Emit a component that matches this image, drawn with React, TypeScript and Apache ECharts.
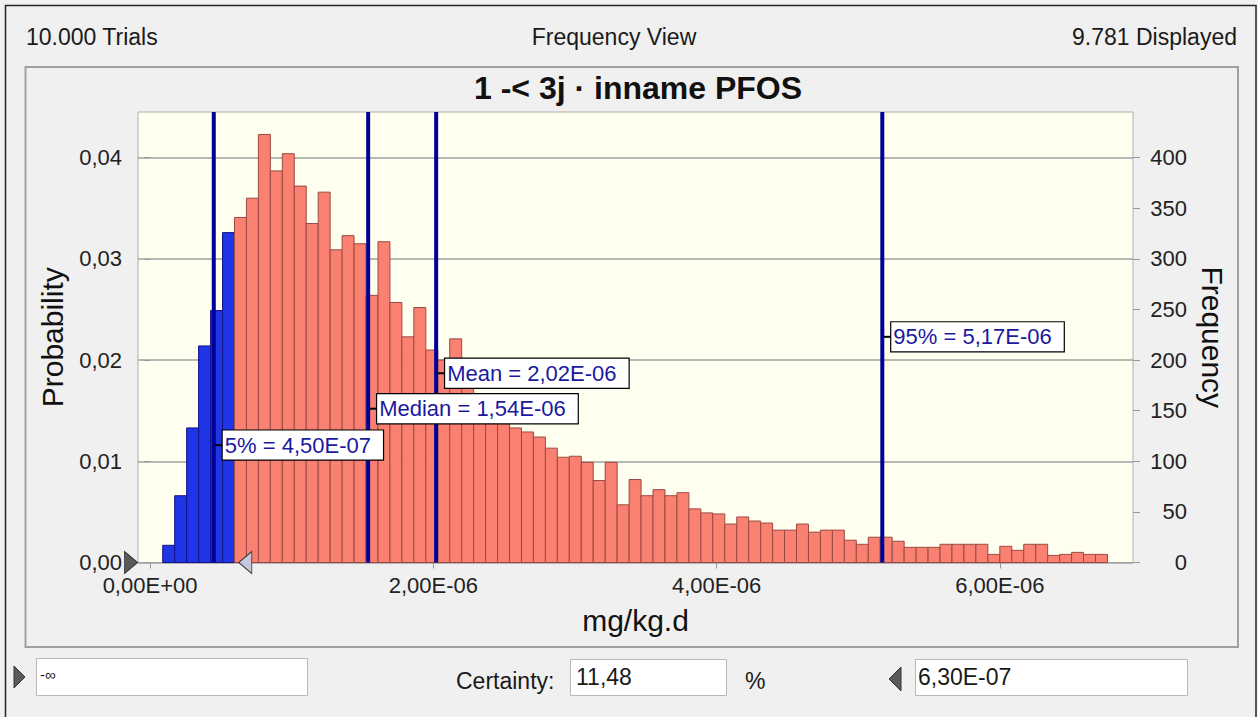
import React, { useEffect, useRef } from "react";
import * as echarts from "echarts";

// ---- data ----
const binStart = 0.0896e-6;
const binWidth = 0.08443e-6;
const frequencies = [
  17, 66, 133, 214, 249, 326, 341, 360, 423, 387,
  404, 372, 335, 366, 309, 323, 315, 264, 317, 257,
  223, 252, 210, 200, 221, 175, 165, 150, 140, 133,
  129, 124, 113, 104, 105, 99, 81, 99, 57, 82,
  66, 72, 66, 69, 53, 49, 48, 38, 45, 41,
  39, 32, 32, 38, 30, 32, 32, 22, 18, 25,
  25, 21, 15, 15, 15, 18, 18, 18, 18, 8,
  16, 12, 18, 18, 7, 8, 10, 8, 8,
];
const percentileNames = ["5%", "Median", "Mean", "95%"];
const percentileValues = [4.5e-7, 1.54e-6, 2.02e-6, 5.17e-6];
const labelLevels = [116, 152, 187, 223];
const xTicks = [0, 2e-6, 4e-6, 6e-6];
const probTicks = [0, 0.01, 0.02, 0.03, 0.04];
const freqTicks = [0, 50, 100, 150, 200, 250, 300, 350, 400];
const xMin = -0.085e-6;
const xMax = 6.94e-6;
const probMax = 0.04452;
const freqMax = 445.2;
const certaintyLowText = "-∞";
const certaintyHigh = 6.3e-7;
const certaintyPct = "11,48";
const trials = "10.000 Trials";
const displayed = "9.781 Displayed";
const viewName = "Frequency View";
const chartTitle = "1 -< 3j · inname PFOS";

const FONT = "'Liberation Sans', Arial, sans-serif";

const fmtSci = (v: number) => {
  const [m, e] = v.toExponential(2).split("e");
  const n = parseInt(e, 10);
  return m.replace(".", ",") + "E" + (n < 0 ? "-" : "+") + String(Math.abs(n)).padStart(2, "0");
};

export default function App() {
  const ref = useRef<HTMLDivElement>(null);
  useEffect(() => {
    if (!ref.current) return;
    const chart = echarts.init(ref.current, undefined, { renderer: "svg" });
    const binData = frequencies.map((f, i) => [binStart + i * binWidth, binStart + (i + 1) * binWidth, f]);
    const uiText = (text: string, x: number, y: number, align: string, size = 23, extra: any = {}) => ({
      type: "text",
      x,
      y,
      style: { text, fill: "#1a1a1a", font: `${size}px ${FONT}`, textAlign: align, textVerticalAlign: "middle", ...extra },
      silent: true,
    });
    const box = (x: number, y: number, w: number, h: number) => ({
      type: "rect",
      shape: { x, y, width: w, height: h },
      style: { fill: "#ffffff", stroke: "#b8b8b8", lineWidth: 1 },
      silent: true,
    });
    const option: any = {
      animation: false,
      backgroundColor: "#f0f0f0",
      textStyle: { fontFamily: FONT },
      grid: {
        left: 138,
        top: 112,
        width: 995,
        height: 450.5,
        show: true,
        backgroundColor: "#fffff0",
        borderColor: "#b0b0b0",
        borderWidth: 1,
      },
      xAxis: {
        type: "value",
        min: xMin,
        max: xMax,
        axisLine: { show: false },
        axisTick: { show: true, customValues: xTicks, length: 6, lineStyle: { color: "#999" } },
        axisLabel: { customValues: xTicks, formatter: fmtSci, fontSize: 22, color: "#222", margin: 12 },
        splitLine: { show: false },
        name: "mg/kg.d",
        nameLocation: "middle",
        nameGap: 43,
        nameTextStyle: { fontSize: 30, color: "#111" },
      },
      yAxis: [
        {
          type: "value",
          min: 0,
          max: probMax,
          interval: 0.01,
          position: "left",
          axisLine: { show: false },
          axisTick: { show: true, customValues: probTicks, length: 6, lineStyle: { color: "#999" } },
          axisLabel: {
            customValues: probTicks,
            formatter: (v: number) => v.toFixed(2).replace(".", ","),
            fontSize: 22,
            color: "#222",
            margin: 16,
          },
          splitLine: { show: true, lineStyle: { color: "#a0a0a0", width: 1.5 } },
          name: "Probability",
          nameLocation: "middle",
          nameGap: 71,
          nameTextStyle: { fontSize: 30, color: "#111" },
        },
        {
          type: "value",
          min: 0,
          max: freqMax,
          interval: 50,
          position: "right",
          axisLine: { show: false },
          axisTick: { show: true, customValues: freqTicks, length: 7, lineStyle: { color: "#999" } },
          axisLabel: { customValues: freqTicks, fontSize: 22, color: "#222", align: "right", margin: 54 },
          splitLine: { show: false },
          name: "Frequency",
          nameLocation: "middle",
          nameGap: 62,
          nameRotate: -90,
          nameTextStyle: { fontSize: 30, color: "#111" },
        },
      ],
      series: [
        {
          type: "custom",
          xAxisIndex: 0,
          yAxisIndex: 1,
          silent: true,
          z: 2,
          data: binData,
          encode: { x: [0, 1], y: 2 },
          renderItem: (params: any, api: any) => {
            const x0 = api.value(0);
            const x1 = api.value(1);
            const f = api.value(2);
            const p0 = api.coord([x0, f]);
            const p1 = api.coord([x1, 0]);
            const blue = x1 <= certaintyHigh;
            return {
              type: "rect",
              shape: { x: p0[0], y: p0[1], width: p1[0] - p0[0], height: p1[1] - p0[1] },
              style: {
                fill: blue ? "#1f35e6" : "#fa8072",
                stroke: blue ? "#12128a" : "#9a4a42",
                lineWidth: 1,
              },
            };
          },
        },
        {
          type: "custom",
          xAxisIndex: 0,
          yAxisIndex: 1,
          silent: true,
          z: 3,
          data: percentileValues.map((v) => [v]),
          encode: { x: 0 },
          renderItem: (params: any, api: any) => {
            const v = api.value(0);
            const b = api.coord([v, 0]);
            const t = api.coord([v, freqMax]);
            return {
              type: "line",
              shape: { x1: b[0], y1: b[1], x2: t[0], y2: t[1] },
              style: { stroke: "#000099", lineWidth: 4 },
            };
          },
        },
        {
          type: "scatter",
          xAxisIndex: 0,
          yAxisIndex: 1,
          silent: true,
          z: 5,
          symbol: "rect",
          symbolSize: [8, 2],
          symbolOffset: [5, 0],
          itemStyle: { color: "#000", opacity: 1 },
          data: percentileValues.map((v, i) => ({
            value: [v, labelLevels[i]],
            label: { formatter: percentileNames[i] + " = " + fmtSci(v) },
          })),
          label: {
            show: true,
            position: "right",
            distance: 0,
            color: "#1a1a9c",
            fontSize: 22,
            lineHeight: 23,
            backgroundColor: "#ffffff",
            borderColor: "#000000",
            borderWidth: 1.2,
            padding: [3, 12, 3, 2],
          },
        },
        {
          type: "scatter",
          xAxisIndex: 0,
          yAxisIndex: 1,
          silent: true,
          clip: false,
          z: 6,
          data: [
            {
              value: [xMin, 0],
              symbol: "path://M0,0L10,8L0,16Z",
              symbolSize: [13, 22],
              symbolOffset: [-7, 0],
              itemStyle: { color: "#5a5a5a", borderColor: "#333", borderWidth: 1, opacity: 1 },
            },
            {
              value: [certaintyHigh, 0],
              symbol: "path://M10,0L0,8L10,16Z",
              symbolSize: [13, 22],
              symbolOffset: [6, 0],
              itemStyle: { color: "#c8c8dc", borderColor: "#333", borderWidth: 1, opacity: 1 },
            },
          ],
        },
      ],
      graphic: [
        {
          type: "rect",
          shape: { x: 5.5, y: 5.5, width: 1250.5, height: 730 },
          style: { fill: "none", stroke: "#222", lineWidth: 1.5 },
          silent: true,
        },
        {
          type: "rect",
          shape: { x: 25.5, y: 67, width: 1212.5, height: 580 },
          style: { fill: "none", stroke: "#a0a0a0", lineWidth: 2 },
          silent: true,
        },
        uiText(trials, 26, 37, "left"),
        uiText(viewName, 614, 37, "center"),
        uiText(displayed, 1237, 37, "right"),
        {
          type: "text",
          x: 638,
          y: 88,
          style: { text: chartTitle, fill: "#111", font: `bold 32px ${FONT}`, textAlign: "center", textVerticalAlign: "middle" },
          silent: true,
        },
        {
          type: "polygon",
          shape: { points: [[14, 666], [25, 677], [14, 688]] },
          style: { fill: "#5a5a5a", stroke: "#333", lineWidth: 1 },
          silent: true,
        },
        box(36.5, 658.5, 271, 37),
        uiText(certaintyLowText, 40, 674, "left", 15),
        uiText("Certainty:", 456, 681, "left"),
        box(570.5, 659.5, 156, 36),
        uiText(certaintyPct, 576, 677, "left"),
        uiText("%", 745, 681, "left"),
        {
          type: "polygon",
          shape: { points: [[901, 667], [889, 679], [901, 691]] },
          style: { fill: "#5a5a5a", stroke: "#333", lineWidth: 1 },
          silent: true,
        },
        box(915.5, 659.5, 272, 36),
        uiText(fmtSci(certaintyHigh), 918, 677, "left"),
      ],
    };
    chart.setOption(option);
    return () => chart.dispose();
  }, []);
  return (
    <div
      ref={ref}
      style={{ position: "fixed", left: 0, top: 0, width: 1258, height: 717, background: "#fff" }}
    />
  );
}
